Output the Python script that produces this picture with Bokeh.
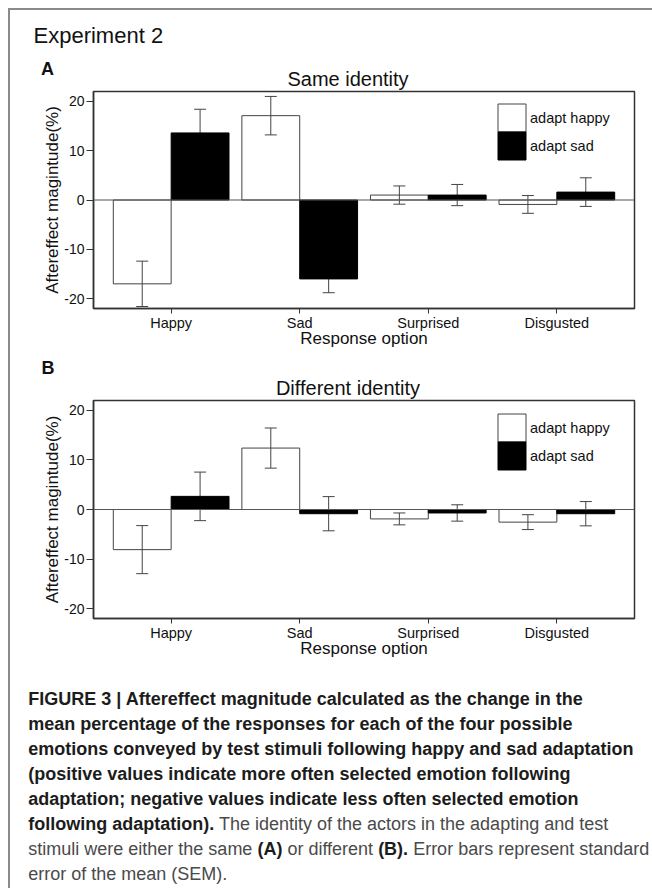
from bokeh.plotting import figure
from bokeh.models import (ColumnDataSource, FactorRange, Range1d, FixedTicker, Span, Div,
                          Legend, LegendItem, PrintfTickFormatter)
from bokeh.layouts import column, row
from bokeh.transform import dodge
from bokeh.embed import file_html
from bokeh.resources import INLINE

# ---------------- data ----------------
categories = ["Happy", "Sad", "Surprised", "Disgusted"]
y_ticks = [-20, -10, 0, 10, 20]
series_names = ["adapt happy", "adapt sad"]

# Panel A: same identity
same_happy = [-17.0, 17.1, 1.0, -0.9]
same_happy_sem = [4.6, 3.9, 1.85, 1.8]
same_sad = [13.6, -16.0, 1.0, 1.6]
same_sad_sem = [4.8, 2.8, 2.15, 2.9]

# Panel B: different identity
diff_happy = [-8.1, 12.4, -1.9, -2.55]
diff_happy_sem = [4.85, 4.05, 1.2, 1.5]
diff_sad = [2.65, -0.85, -0.7, -0.85]
diff_sad_sem = [4.9, 3.45, 1.65, 2.45]

FONT = "Liberation Sans"
AX = "#333333"
ERR = "#444444"


def make_legend(item, loc):
    return Legend(items=[item], location=loc, glyph_width=35, glyph_height=35, spacing=0,
                  padding=0, margin=0, label_standoff=1, label_height=35,
                  label_text_font=FONT, label_text_font_size="14.5px", label_text_color="#111111",
                  border_line_alpha=0, background_fill_alpha=0)


def make_panel(hv, hs, sv, ss, frame_h):
    src = ColumnDataSource(dict(
        cat=categories,
        hv=hv, hlo=[v - e for v, e in zip(hv, hs)], hhi=[v + e for v, e in zip(hv, hs)],
        sv=sv, slo=[v - e for v, e in zip(sv, ss)], shi=[v + e for v, e in zip(sv, ss)],
    ))
    p = figure(x_range=FactorRange(*categories, range_padding=0.104, range_padding_units="absolute"),
               y_range=Range1d(-22, 22),
               frame_width=541, frame_height=frame_h,
               min_border_left=83, min_border_right=5, min_border_top=1, min_border_bottom=42,
               output_backend="svg", toolbar_location=None,
               background_fill_color="white", border_fill_color="white",
               outline_line_color=AX, outline_line_width=1.5)
    p.xgrid.visible = False
    p.ygrid.visible = False

    xh = dodge("cat", -0.225, range=p.x_range)
    xs = dodge("cat", 0.225, range=p.x_range)

    rh = p.vbar(x=xh, top="hv", bottom=0, width=0.45, source=src,
                fill_color="white", line_color="#444444", line_width=1)
    for xx, lo, hi in ((xh, "hlo", "hhi"), (xs, "slo", "shi")):
        p.segment(x0=xx, y0=lo, x1=xx, y1=hi, source=src, line_color=ERR, line_width=1)
        p.scatter(x=xx, y=lo, marker="dash", size=12, source=src, line_color=ERR, line_width=1)
        p.scatter(x=xx, y=hi, marker="dash", size=12, source=src, line_color=ERR, line_width=1)
    rs = p.vbar(x=xs, top="sv", bottom=0, width=0.45, source=src,
                fill_color="black", line_color="black", line_width=1)

    p.add_layout(Span(location=0, dimension="width", line_color="#555555", line_width=1))

    # two stacked single-item legends so the two swatches touch
    p.add_layout(make_legend(LegendItem(label=series_names[0], renderers=[rh]), (401, 173)))
    p.add_layout(make_legend(LegendItem(label=series_names[1], renderers=[rs]), (401, 145)))

    # y axis
    p.yaxis.ticker = FixedTicker(ticks=y_ticks)
    p.yaxis.formatter = PrintfTickFormatter(format="%d")
    p.yaxis.minor_tick_line_color = None
    p.yaxis.major_tick_out = 7
    p.yaxis.major_tick_in = 0
    p.yaxis.major_label_standoff = 2
    p.yaxis.axis_label = "Aftereffect magintude(%)"
    p.yaxis.axis_label_standoff = -1
    # x axis
    p.xaxis.major_tick_out = 5
    p.xaxis.major_tick_in = 0
    p.xaxis.major_label_standoff = 1
    p.xaxis.axis_label = "Response option"
    p.xaxis.axis_label_standoff = -5
    for ax in (p.xaxis, p.yaxis):
        ax.axis_line_color = AX
        ax.axis_line_width = 1.5
        ax.major_tick_line_color = AX
        ax.major_tick_line_width = 1
        ax.major_label_text_font = FONT
        ax.major_label_text_font_size = "14.5px"
        ax.major_label_text_color = "#111111"
        ax.axis_label_text_font = FONT
        ax.axis_label_text_font_size = "17px"
        ax.axis_label_text_font_style = "normal"
        ax.axis_label_text_color = "#111111"
    p.yaxis.major_label_text_font_size = "14px"
    return p


FF = "font-family:'Liberation Sans',Arial,Helvetica,sans-serif;"

header_a = Div(margin=0, width=630, height=80, text=(
    f"<div style=\"position:relative;width:630px;height:80px;{FF}color:#111;\">"
    "<div style='position:absolute;left:23.5px;top:14.7px;font-size:22px;line-height:1;white-space:nowrap;'>Experiment 2</div>"
    "<div style='position:absolute;left:31px;top:49.5px;font-size:18px;font-weight:bold;line-height:1;'>A</div>"
    "<div style='position:absolute;left:338px;top:59.1px;font-size:20px;line-height:1;white-space:nowrap;transform:translateX(-50%);'>Same identity</div>"
    "</div>"))

header_b = Div(margin=0, width=630, height=49, text=(
    f"<div style=\"position:relative;width:630px;height:49px;{FF}color:#111;\">"
    "<div style='position:absolute;left:31.5px;top:9.1px;font-size:18px;font-weight:bold;line-height:1;'>B</div>"
    "<div style='position:absolute;left:338px;top:28.1px;font-size:20px;line-height:1;white-space:nowrap;transform:translateX(-50%);'>Different identity</div>"
    "</div>"))

B = "<b style='color:#1c1c1c'>"
caption_lines = [
    B + "FIGURE 3 | Aftereffect magnitude calculated as the change in the</b>",
    B + "mean percentage of the responses for each of the four possible</b>",
    B + "emotions conveyed by test stimuli following happy and sad adaptation</b>",
    B + "(positive values indicate more often selected emotion following</b>",
    B + "adaptation; negative values indicate less often selected emotion</b>",
    B + "following adaptation).</b> The identity of the actors in the adapting and test",
    "stimuli were either the same " + B + "(A)</b> or different " + B + "(B).</b> Error bars represent standard",
    "error of the mean (SEM).",
]
caption = Div(margin=0, width=632, height=220, text=(
    f"<div style=\"padding-left:18.3px;padding-top:27px;{FF}font-size:18px;line-height:25px;"
    "color:#4a4a4a;white-space:nowrap;\">" + "<br>".join(caption_lines) + "</div>"))

pA = make_panel(same_happy, same_happy_sem, same_sad, same_sad_sem, 217)
pB = make_panel(diff_happy, diff_happy_sem, diff_sad, diff_sad_sem, 218)

content = column(header_a, pA, header_b, pB, caption, spacing=0)

top_line = Div(margin=0, width=644, height=2, text="",
               styles={"background-color": "#8a8a8a"})
left_line = Div(margin=0, width=2, height=878, text="",
                styles={"background-color": "#8a8a8a"})

layout = column(top_line, row(left_line, content, spacing=0), spacing=0, margin=(8, 0, 0, 8))

open("out.html", "w").write(file_html(layout, INLINE, title="Experiment 2"))
